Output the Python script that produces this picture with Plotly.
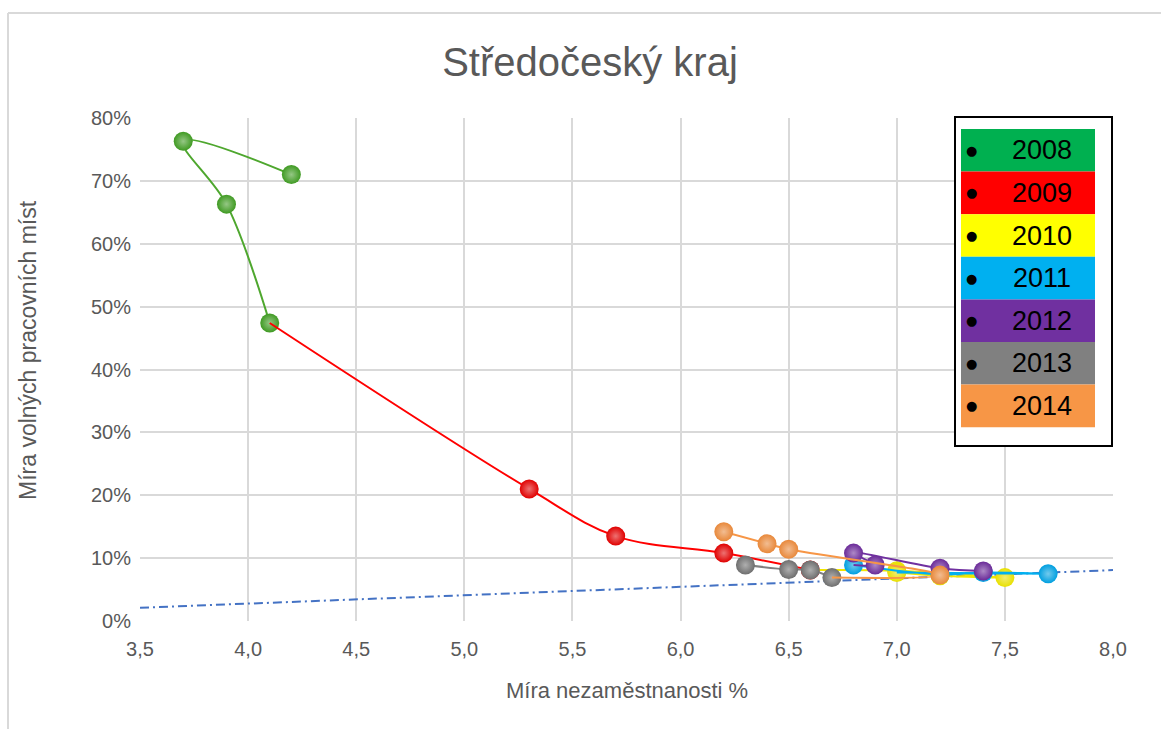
import plotly.graph_objects as go

# ---------------- data ----------------
years = ["2008", "2009", "2010", "2011", "2012", "2013", "2014"]

unemp_2008 = [4.2, 3.7, 3.9, 4.1]
vac_2008 = [71.0, 76.3, 66.3, 47.4]
unemp_2009 = [5.3, 5.7, 6.2, 6.6]
vac_2009 = [21.0, 13.5, 10.8, 8.1]
unemp_2010 = [7.0, 7.5, 7.2, 7.0]
vac_2010 = [8.0, 6.9, 7.2, 7.7]
unemp_2011 = [7.7, 7.4, 7.2, 6.8]
vac_2011 = [7.5, 7.7, 7.4, 8.9]
unemp_2012 = [6.9, 6.8, 7.2, 7.4]
vac_2012 = [8.9, 10.8, 8.4, 7.95]
unemp_2013 = [6.3, 6.5, 6.6, 6.7]
vac_2013 = [8.9, 8.2, 8.1, 6.9]
unemp_2014 = [7.2, 6.5, 6.4, 6.2]
vac_2014 = [7.3, 11.4, 12.3, 14.2]

series_unemp = [unemp_2008, unemp_2009, unemp_2010, unemp_2011, unemp_2012, unemp_2013, unemp_2014]
series_vac = [vac_2008, vac_2009, vac_2010, vac_2011, vac_2012, vac_2013, vac_2014]
# whether a year's line starts from the previous year's last point
link_prev = [False, True, True, True, True, False, True]

ref_unemp = [3.5, 8.0]
ref_vac = [2.1, 8.1]

x_ticks = [3.5, 4.0, 4.5, 5.0, 5.5, 6.0, 6.5, 7.0, 7.5, 8.0]
y_ticks = [0, 10, 20, 30, 40, 50, 60, 70, 80]
y_tick_labels = ["0%", "10%", "20%", "30%", "40%", "50%", "60%", "70%", "80%"]

# ---------------- style ----------------
line_colors = ["#4EA72E", "#FF0000", "#F2E600", "#00B0F0", "#7030A0", "#808080", "#F79646"]
ball_colors = ["#3F9A22", "#E00000", "#E8E000", "#009FE0", "#6A2A98", "#6E6E6E", "#E8883A"]
legend_colors = ["#00B050", "#FF0000", "#FFFF00", "#00B0F0", "#7030A0", "#808080", "#F79646"]

W, H = 1161, 729
L, R, T, B = 140, 1113, 118, 621
FONT = "Liberation Sans Narrow, Arial Narrow, Liberation Sans, sans-serif"


def px(x):
    return (x - L) / (R - L)


def py(y):
    return (B - y) / (B - T)


def lighten(hexc, f):
    h = hexc.lstrip("#")
    r, g, b = int(h[0:2], 16), int(h[2:4], 16), int(h[4:6], 16)
    r = int(r + (255 - r) * f)
    g = int(g + (255 - g) * f)
    b = int(b + (255 - b) * f)
    return "#%02X%02X%02X" % (r, g, b)


fig = go.Figure()

# reference dash-dot line
fig.add_trace(go.Scatter(
    x=ref_unemp, y=ref_vac, mode="lines",
    line=dict(color="#4472C4", width=2, dash="9px,4px,2px,4px"),
    hoverinfo="skip", showlegend=False))

for i, yr in enumerate(years):
    xs = list(series_unemp[i])
    ys = list(series_vac[i])
    if link_prev[i] and i > 0:
        xs = [series_unemp[i - 1][-1]] + xs
        ys = [series_vac[i - 1][-1]] + ys
    fig.add_trace(go.Scatter(
        x=xs, y=ys, mode="lines",
        line=dict(color=line_colors[i], width=2, shape="spline", smoothing=1.0),
        hoverinfo="skip", showlegend=False))
    fig.add_trace(go.Scatter(
        x=series_unemp[i], y=series_vac[i], mode="markers", name=yr,
        marker=dict(size=19, color=ball_colors[i],
                    gradient=dict(type="radial", color=lighten(ball_colors[i], 0.45)),
                    line=dict(width=0)),
        showlegend=False))

shapes = []
annotations = []

# outer chart border (top and left edges visible)
shapes.append(dict(type="line", xref="paper", yref="paper",
                   x0=px(8), x1=px(W + 10), y0=py(13), y1=py(13),
                   line=dict(color="#D9D9D9", width=2)))
shapes.append(dict(type="line", xref="paper", yref="paper",
                   x0=px(8), x1=px(8), y0=py(13), y1=py(H + 10),
                   line=dict(color="#D9D9D9", width=2)))

# custom legend
shapes.append(dict(type="rect", xref="paper", yref="paper",
                   x0=px(955), x1=px(1112), y0=py(117), y1=py(446),
                   fillcolor="white", line=dict(color="black", width=2), layer="above"))
row_top = 129.0
row_h = 42.6
for i, yr in enumerate(years):
    y0 = row_top + i * row_h
    shapes.append(dict(type="rect", xref="paper", yref="paper",
                       x0=px(961), x1=px(1095), y0=py(y0), y1=py(y0 + row_h),
                       fillcolor=legend_colors[i], line=dict(width=0), layer="above"))
    yc = py(y0 + row_h / 2)
    annotations.append(dict(xref="paper", yref="paper", x=px(971), y=yc,
                            text="●", showarrow=False, xanchor="center", yanchor="middle",
                            font=dict(family="DejaVu Sans", size=13, color="black")))
    annotations.append(dict(xref="paper", yref="paper", x=px(1042), y=yc,
                            text=yr, showarrow=False, xanchor="center", yanchor="middle",
                            font=dict(family=FONT, size=27, color="black")))

# axis titles
annotations.append(dict(xref="paper", yref="paper", x=px(627), y=py(690),
                        text="Míra nezaměstnanosti %", showarrow=False,
                        xanchor="center", yanchor="middle",
                        font=dict(family=FONT, size=22, color="#595959")))
annotations.append(dict(xref="paper", yref="paper", x=px(28), y=py(350),
                        text="Míra volných pracovních míst", showarrow=False, textangle=-90,
                        xanchor="center", yanchor="middle",
                        font=dict(family=FONT, size=23, color="#595959")))

fig.update_layout(
    width=W, height=H,
    margin=dict(l=L, r=W - R, t=T, b=H - B, pad=0),
    paper_bgcolor="white", plot_bgcolor="white",
    separators=", ",
    title=dict(text="Středočeský kraj", x=590 / W, xanchor="center",
               y=1 - 62 / H, yanchor="middle",
               font=dict(family=FONT, size=40, color="#595959")),
    xaxis=dict(range=[3.5, 8.0], tickvals=x_ticks, tickformat=".1f",
               showgrid=True, gridcolor="#D9D9D9", gridwidth=1.5,
               zeroline=False, showline=False, ticks="",
               tickfont=dict(family=FONT, size=20, color="#595959"), ticklabelstandoff=14),
    yaxis=dict(range=[0, 80], tickvals=y_ticks, ticktext=y_tick_labels,
               showgrid=True, gridcolor="#D9D9D9", gridwidth=1.5,
               zeroline=False, showline=False, ticks="",
               tickfont=dict(family=FONT, size=20, color="#595959"), ticklabelstandoff=8),
    shapes=shapes, annotations=annotations,
    showlegend=False,
)

fig.write_html("out.html", config={"displayModeBar": False},
               post_script="document.body.style.margin='0';")
